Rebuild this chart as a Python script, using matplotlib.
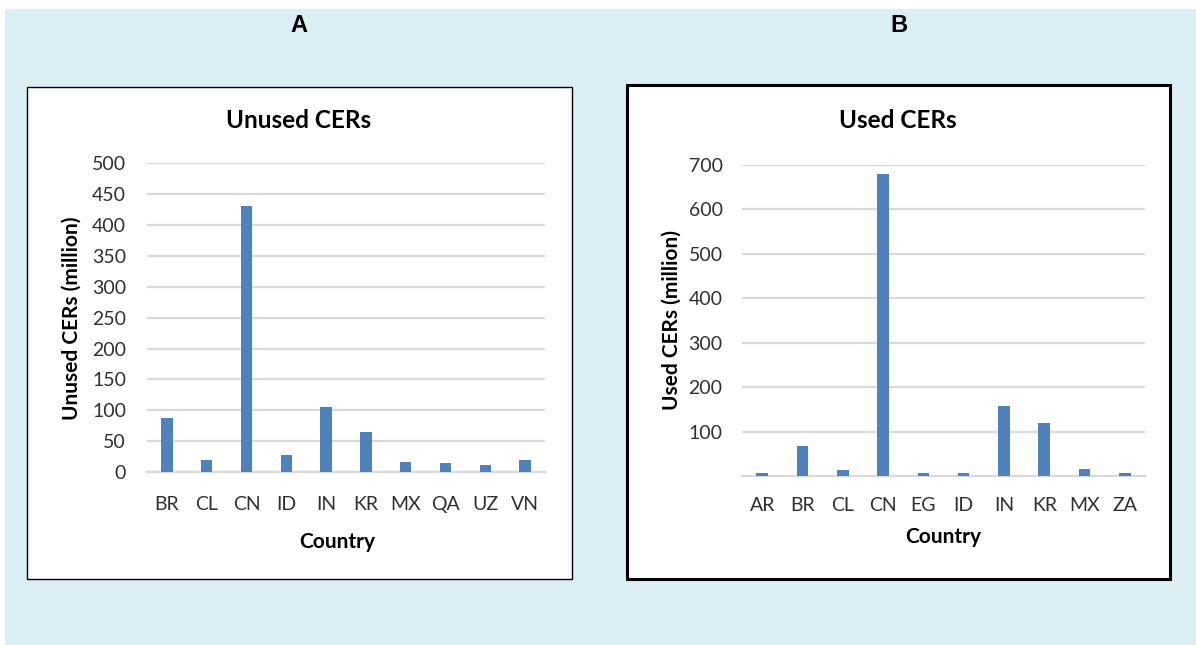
import matplotlib.pyplot as plt
from matplotlib.patches import Rectangle

# figure is 1196 x 645 px
W, H = 1196, 645

# data
unused_countries = ["BR", "CL", "CN", "ID", "IN", "KR", "MX", "QA", "UZ", "VN"]
unused_cers = [87, 19, 431, 28, 106, 64, 17, 14, 12, 19]

used_countries = ["AR", "BR", "CL", "CN", "EG", "ID", "IN", "KR", "MX", "ZA"]
used_cers = [7, 67, 15, 680, 7, 7, 157, 119, 17, 7]

BAR = "#4F81BD"
GRID = "#D9D9D9"
BG = "#DAEEF3"
FONT = "Lato"
TICKC = "#303030"


def fx(px):
    return px / W


def fy(py):
    return 1 - py / H


fig = plt.figure(figsize=(W / 100, H / 100), dpi=100)
fig.patch.set_facecolor("white")

# light blue background and white panel boxes
fig.patches.append(Rectangle((fx(5), 0), 1 - fx(5), fy(9), transform=fig.transFigure,
                             facecolor=BG, edgecolor="none", zorder=0))
fig.patches.append(Rectangle((fx(27), fy(579)), fx(572 - 27), (579 - 87) / H, transform=fig.transFigure,
                             facecolor="white", edgecolor="black", linewidth=1.0, zorder=1))
fig.patches.append(Rectangle((fx(627), fy(579)), fx(1170 - 627), (579 - 85) / H, transform=fig.transFigure,
                             facecolor="white", edgecolor="black", linewidth=2.2, zorder=1))


def bar_panel(rect, names, values, yticks, ylim, xpad, ypad):
    ax = fig.add_axes(rect)
    ax.set_zorder(2)
    ax.patch.set_alpha(0)
    x = range(len(names))
    ax.bar(x, values, width=0.29, color=BAR, zorder=3)
    ax.set_xlim(-0.5, len(names) - 0.5)
    ax.set_ylim(*ylim)
    ax.set_xticks(list(x))
    ax.set_xticklabels(names)
    ax.set_yticks(yticks)
    ax.yaxis.grid(True, color=GRID, linewidth=1.6, zorder=0)
    for s in ["top", "right", "left"]:
        ax.spines[s].set_visible(False)
    ax.spines["bottom"].set_color(GRID)
    ax.spines["bottom"].set_linewidth(1.6)
    ax.tick_params(axis="both", length=0, labelsize=14, labelcolor=TICKC)
    ax.tick_params(axis="x", pad=xpad)
    ax.tick_params(axis="y", pad=ypad)
    for lab in ax.get_xticklabels() + ax.get_yticklabels():
        lab.set_fontfamily(FONT)
    return ax


axA = bar_panel([fx(147), fy(472), fx(545 - 147), (472 - 163.3) / H],
                unused_countries, unused_cers, list(range(0, 501, 50)), (0, 500), 17, 15)
axB = bar_panel([fx(742), fy(476.2), fx(1145 - 742), (476.2 - 164.7) / H],
                used_countries, used_cers, list(range(100, 701, 100)), (0, 700), 15, 14)

# panel letters
fig.text(fx(299), fy(25), "A", ha="center", va="center", fontsize=17,
         fontweight="bold", family="Liberation Sans")
fig.text(fx(899), fy(25), "B", ha="center", va="center", fontsize=17,
         fontweight="bold", family="Liberation Sans")

# chart titles
fig.text(fx(299), fy(120), "Unused CERs", ha="center", va="center", fontsize=17.5,
         fontweight="bold", family=FONT)
fig.text(fx(898), fy(121), "Used CERs", ha="center", va="center", fontsize=17.5,
         fontweight="bold", family=FONT)

# axis titles
fig.text(fx(72), fy(318), "Unused CERs (million)", ha="center", va="center", rotation=90,
         fontsize=15, fontweight="bold", family=FONT)
fig.text(fx(672), fy(320), "Used CERs (million)", ha="center", va="center", rotation=90,
         fontsize=15, fontweight="bold", family=FONT)
fig.text(fx(337), fy(542), "Country", ha="center", va="center", fontsize=15,
         fontweight="bold", family=FONT)
fig.text(fx(943), fy(537), "Country", ha="center", va="center", fontsize=15,
         fontweight="bold", family=FONT)

fig.savefig("out.png", dpi=100)
